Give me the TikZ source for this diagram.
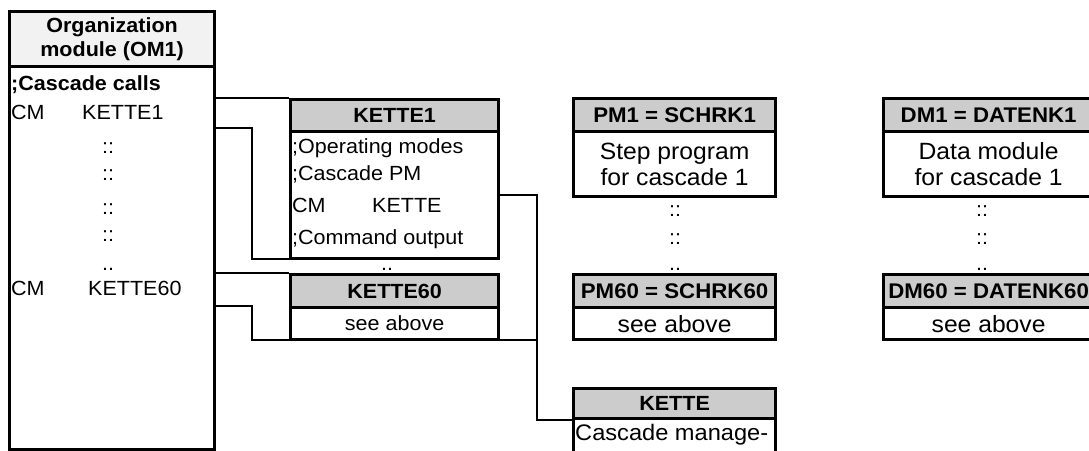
\documentclass[tikz,border=0pt]{standalone}
\usepackage{fontspec}
\setmainfont{Liberation Sans}[FakeStretch=1.05]
\newcommand\dfont{\fontsize{20.5}{23}\selectfont}
\newcommand\hfont{\fontsize{21.2}{24}\selectfont}
\newcommand\pfont{\fontsize{23.5}{26}\selectfont}
\newcommand\kfont{\fontsize{22.5}{25}\selectfont}
\definecolor{headgray}{HTML}{CCCCCC}
\definecolor{omgray}{HTML}{F2F2F2}
\tikzset{
  frame/.style={draw, line width=3.2pt, anchor=north west, inner sep=0pt},
  head/.style={frame, fill=headgray, font=\dfont\bfseries},
  phead/.style={frame, fill=headgray, font=\hfont\bfseries},
  wire/.style={line width=2pt},
  txt/.style={inner sep=0pt, anchor=base west},
  dots/.style={inner sep=0pt, anchor=base}
}

\begin{document}
\begin{tikzpicture}[x=1pt,y=-1pt,font=\dfont]
\useasboundingbox (0,0) rectangle (1089,450);
\clip (0,0) rectangle (1089,450);

\node[frame, fill=omgray, minimum width=205pt, minimum height=55pt, align=center, font=\dfont\bfseries] (omhead) at (8,10) {Organization\\[1pt]module (OM1)};
\node[frame, minimum width=205pt, minimum height=383pt] (om) at (8,65) {};
\node[txt, font=\dfont\bfseries] (omcalls) at (11,90) {;Cascade calls};
\node[txt] (cm1) at (11,119) {CM};
\node[txt] (call1) at (82,119) {KETTE1};
\node[txt] (cm60) at (11,295) {CM};
\node[txt] (call60) at (88,295) {KETTE60};
\foreach \y in {153,180,214,241}
  \node[dots] (omdots\y) at (108,\y) {::};
\node[dots] (omdots) at (108,270) {..};

\node[head, minimum width=208pt, minimum height=32pt] (kette1head) at (289,98) {KETTE1};
\node[frame, minimum width=208pt, minimum height=127pt] (kette1) at (289,130) {};
\node[txt] (k1a) at (292,153) {;Operating modes};
\node[txt] (k1b) at (292,180) {;Cascade PM};
\node[txt] (k1c) at (292,212) {CM};
\node[txt] (k1d) at (372,212) {KETTE};
\node[txt] (k1e) at (292,244) {;Command output};
\node[dots] (kdots) at (387,270) {..};
\node[head, minimum width=208pt, minimum height=33pt] (kette60head) at (289,273) {KETTE60};
\node[frame, minimum width=208pt, minimum height=32pt] (kette60) at (289,306) {see above};

\node[phead, minimum width=202pt, minimum height=33pt] (pm1head) at (572,97) {PM1 = SCHRK1};
\node[frame, minimum width=202pt, minimum height=65pt, align=center, font=\pfont] (pm1) at (572,130) {Step program\\for cascade 1};
\foreach \y in {216,244}
  \node[dots] (pmdots\y) at (675,\y) {::};
\node[dots] (pmdots) at (675,270) {..};
\node[phead, minimum width=202pt, minimum height=33pt] (pm60head) at (572,273) {PM60 = SCHRK60};
\node[frame, minimum width=202pt, minimum height=32pt, font=\pfont] (pm60) at (572,306) {see above};

\node[phead, minimum width=210pt, minimum height=33pt] (dm1head) at (882,97) {DM1 = DATENK1};
\node[frame, minimum width=210pt, minimum height=65pt, align=center, font=\pfont] (dm1) at (882,130) {Data module\\for cascade 1};
\foreach \y in {216,244}
  \node[dots] (dmdots\y) at (982,\y) {::};
\node[dots] (dmdots) at (982,270) {..};
\node[phead, minimum width=210pt, minimum height=33pt] (dm60head) at (882,273) {DM60 = DATENK60};
\node[frame, minimum width=210pt, minimum height=32pt, font=\pfont] (dm60) at (882,306) {see above};

\node[head, minimum width=202pt, minimum height=30pt] (kettehead) at (572,387) {KETTE};
\node[frame, minimum width=202pt, minimum height=60pt] (kette) at (572,417) {};
\node[txt, font=\kfont] (kettetxt) at (575,440) {Cascade manage-};

\coordinate (out1) at (213,128);
\coordinate (out60) at (213,306);
\draw[wire] (om.east |- kette1head.north west) -- (kette1head.north west);
\draw[wire] (out1) -- ++(39,0) |- ([yshift=1pt]kette1.south west);
\draw[wire] (om.east |- kette60head.north west) -- (kette60head.north west);
\draw[wire] (out60) -- ++(39,0) |- ([yshift=1pt]kette60.south west);
\draw[wire] (kette1.east) -- ++(37,0) |- (kettehead.south west);
\draw[wire] ([yshift=1pt]kette60.south east) -- ++(37,0);
\end{tikzpicture}
\end{document}
